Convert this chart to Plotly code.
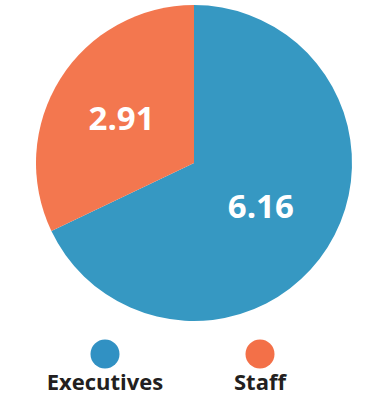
import plotly.graph_objects as go

categories = ["Executives", "Staff"]
values = [6.16, 2.91]
labels_text = ["6.16", "2.91"]
colors = ["#3698c2", "#f3774f"]
legend_colors = ["#3191c3", "#f37048"]

W, H = 379, 397

fig = go.Figure()
fig.add_trace(go.Pie(
    labels=categories,
    values=values,
    text=labels_text,
    textinfo="text",
    textposition="inside",
    insidetextorientation="horizontal",
    sort=False,
    direction="clockwise",
    rotation=0,
    marker=dict(colors=colors, line=dict(width=0)),
    textfont=dict(family="Open Sans", size=33, color="white", weight="bold"),
    domain=dict(x=[36 / W, 352 / W], y=[(H - 321) / H, (H - 5) / H]),
    showlegend=False,
    hoverinfo="label+value",
))

# legend drawn as a categorical scatter: circle above, label below
fig.add_trace(go.Scatter(
    x=categories,
    y=[0, 0],
    mode="markers+text",
    marker=dict(size=29, color=legend_colors),
    text=categories,
    textposition="bottom center",
    textfont=dict(family="Open Sans", size=22, color="#231f20", weight="bold"),
    showlegend=False,
    hoverinfo="skip",
    cliponaxis=False,
))

fig.update_layout(
    width=W, height=H,
    margin=dict(l=0, r=0, t=0, b=0),
    paper_bgcolor="white",
    plot_bgcolor="white",
    xaxis=dict(domain=[0, 1], range=[-105 / 155, (W - 105) / 155],
               visible=False, fixedrange=True),
    yaxis=dict(domain=[0, 75 / H], range=[-43, 32], visible=False,
               fixedrange=True),
)

fig.write_html(
    "out.html",
    config={"displayModeBar": False},
    post_script="document.body.style.margin='0';document.body.style.overflow='hidden';",
)
